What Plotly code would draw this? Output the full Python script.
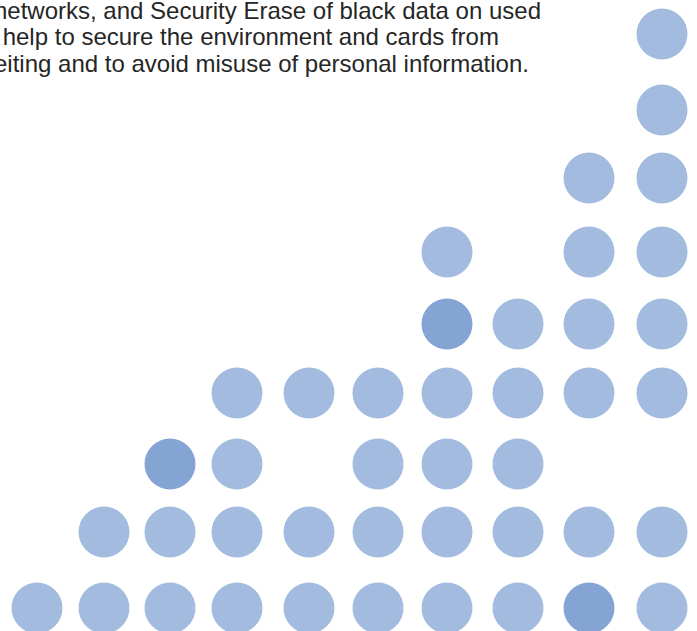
import plotly.graph_objects as go

# Column and row positions of the dot grid (axis units)
col_pos = [37, 104, 170, 237, 309, 378, 447, 518, 589, 662]
row_pos = [34, 110, 178, 252, 324, 393, 464, 532, 608]
# Dot pattern per row, top to bottom: 0 = none, 1 = light dot, 2 = dark dot
grid_rows = [
    "0000000001",
    "0000000001",
    "0000000011",
    "0000001011",
    "0000002111",
    "0001111111",
    "0021011100",
    "0111111111",
    "1111111121",
]
text_lines = [
    "networks, and Security Erase of black data on used",
    " help to secure the environment and cards from",
    "eiting and to avoid misuse of personal information.",
]
text_line_ends = [542, 500, 530]
text_line_mid = [10, 36, 63]

LIGHT = "#a4bbe0"
DARK = "#84a5d4"

lx, ly, dx, dy = [], [], [], []
for r, row in enumerate(grid_rows):
    for c, ch in enumerate(row):
        if ch == "1":
            lx.append(col_pos[c]); ly.append(row_pos[r])
        elif ch == "2":
            dx.append(col_pos[c]); dy.append(row_pos[r])

fig = go.Figure()
fig.add_trace(go.Scatter(x=lx, y=ly, mode="markers",
                         marker=dict(size=51, color=LIGHT, line=dict(width=0)),
                         hoverinfo="skip", showlegend=False))
fig.add_trace(go.Scatter(x=dx, y=dy, mode="markers",
                         marker=dict(size=51, color=DARK, line=dict(width=0)),
                         hoverinfo="skip", showlegend=False))

for t, xe, ym in zip(text_lines, text_line_ends, text_line_mid):
    fig.add_annotation(x=xe, y=ym, xref="x", yref="y", text=t, showarrow=False,
                       xanchor="right", yanchor="middle", borderpad=0,
                       font=dict(family="Liberation Sans, Arial, sans-serif", size=24, color="#262626"))

fig.update_layout(
    width=697, height=631,
    margin=dict(l=0, r=0, t=0, b=0),
    paper_bgcolor="white", plot_bgcolor="white",
    xaxis=dict(range=[0, 697], visible=False, fixedrange=True),
    yaxis=dict(range=[631, 0], visible=False, fixedrange=True),
)
fig.write_html("out.html", config={"displayModeBar": False},
               post_script="document.body.style.margin='0px';")
